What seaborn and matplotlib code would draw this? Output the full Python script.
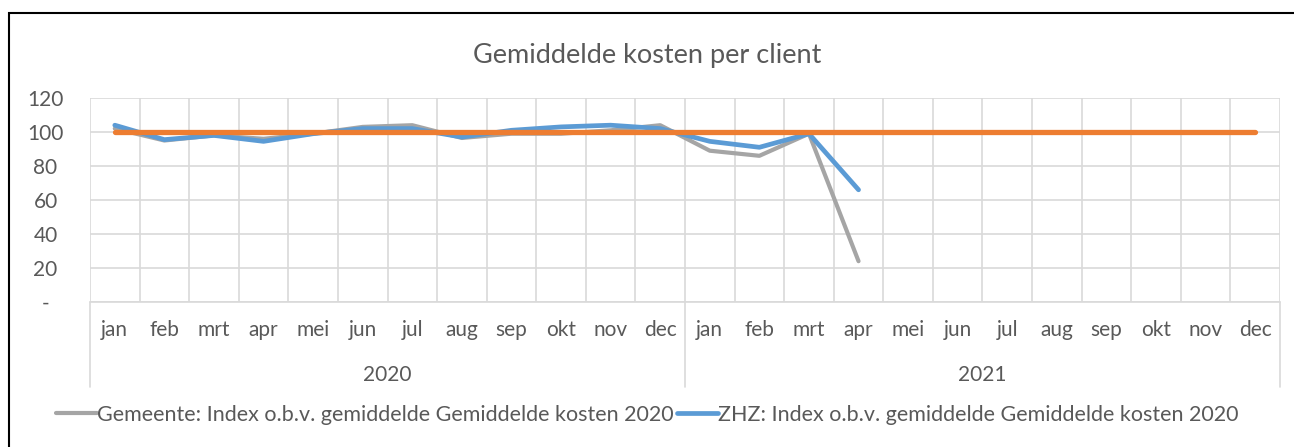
import matplotlib
matplotlib.use("Agg")
import matplotlib.pyplot as plt
import matplotlib.transforms as mtransforms
from matplotlib.patches import Rectangle
import seaborn as sns
import pandas as pd

# data
months = ['jan', 'feb', 'mrt', 'apr', 'mei', 'jun', 'jul', 'aug', 'sep', 'okt', 'nov', 'dec']
years = ['2020', '2021']
gemeente = [102, 95, 98, 96, 99, 103, 104, 96.5, 99, 99, 101, 104,
            89, 86, 99, 24]
zhz = [104, 95.5, 98, 94.5, 99, 102, 102, 97, 101, 103, 104, 102,
       94.5, 91, 99, 66]
norm = [100] * 24

name_gem = 'Gemeente: Index o.b.v. gemiddelde Gemiddelde kosten 2020'
name_zhz = 'ZHZ: Index o.b.v. gemiddelde Gemiddelde kosten 2020'
name_norm = 'Norm'

labels = months * len(years)
rows = []
for name, vals in [(name_gem, gemeente), (name_zhz, zhz), (name_norm, norm)]:
    for i, v in enumerate(vals):
        rows.append({'pos': i, 'waarde': v, 'reeks': name})
df = pd.DataFrame(rows)

sns.set_style('white')
plt.rcParams['font.family'] = ['Lato', 'DejaVu Sans']
txt = '#595959'
grid = '#d9d9d9'

fig = plt.figure(figsize=(12.94, 4.47), dpi=100)
W, H = 1294, 447
ax = fig.add_axes([90 / W, 1 - 302 / H, (1280 - 90) / W, (302 - 98) / H])

palette = {name_gem: '#A5A5A5', name_zhz: '#5B9BD5', name_norm: '#ED7D31'}
sizes = {name_gem: 3.0, name_zhz: 3.4, name_norm: 3.8}
for name in [name_gem, name_zhz, name_norm]:
    sns.lineplot(data=df[df['reeks'] == name], x='pos', y='waarde',
                 color=palette[name], linewidth=sizes[name], ax=ax,
                 label=name if name != name_norm else None,
                 solid_capstyle='round')

n = len(labels)
ax.set_xlim(-0.5, n - 0.5)
ax.set_ylim(0, 120)
ax.set_yticks(range(0, 121, 20))
ax.set_yticklabels(['-'] + [str(v) for v in range(20, 121, 20)])
ax.set_xticks(range(n))
ax.set_xticklabels(labels)
ax.set_xlabel('')
ax.set_ylabel('')
ax.tick_params(axis='both', length=0, labelsize=15, colors=txt)
ax.tick_params(axis='x', pad=13)
ax.tick_params(axis='y', pad=32)
for lab in ax.get_yticklabels():
    lab.set_horizontalalignment('center')

# gridlines
for yv in range(0, 121, 20):
    ax.axhline(yv, color=grid, lw=1.2, zorder=0)
for xv in range(n + 1):
    ax.axvline(xv - 0.5, color=grid, lw=1.2, zorder=0)
for sp in ax.spines.values():
    sp.set_visible(False)

# multi-level category axis
trans = mtransforms.blended_transform_factory(ax.transData, ax.transAxes)
ax.plot([-0.5, n - 0.5], [0, 0], color=grid, lw=1.2, transform=trans, clip_on=False)
for b in [0, 12, 24]:
    ax.plot([b - 0.5, b - 0.5], [0, -0.417], color=grid, lw=1.2,
            transform=trans, clip_on=False)
for k, yr in enumerate(years):
    ax.text(k * 12 + 5.5, -0.36, yr, transform=trans, ha='center', va='center',
            fontsize=15, color=txt)

ax.legend(loc='center', bbox_to_anchor=(0.5, 1 - 415 / H), bbox_transform=fig.transFigure,
          ncol=2, frameon=False, fontsize=15.5, labelcolor=txt,
          handlelength=1.9, handletextpad=0.0, columnspacing=0.15)

fig.text(0.5, 1 - 55 / H, 'Gemiddelde kosten per client', ha='center', va='center',
         fontsize=19.5, color=txt)

# chart border (only left and top visible in the crop)
fig.patches.append(Rectangle((9 / W, -0.1), 1.2, 1 - 13 / H + 0.1,
                             transform=fig.transFigure, fill=False,
                             edgecolor='black', lw=1.5))

fig.savefig('out.png', dpi=100)
